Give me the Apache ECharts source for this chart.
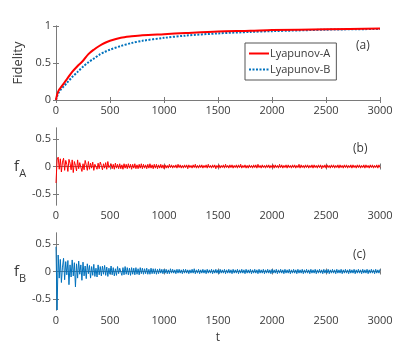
<!DOCTYPE html>
<html>
<head>
<meta charset="utf-8">
<script src="https://cdn.jsdelivr.net/npm/echarts@6/dist/echarts.min.js"></script>
<style>
  html, body { margin: 0; padding: 0; background: #fff; }
  #chart { width: 420px; height: 350px; }
</style>
</head>
<body>
<div id="chart"></div>
<script>
// (a) fidelity curves
const tFid = [0, 10, 25, 50, 75, 100, 150, 200, 250, 300, 350, 400, 450, 500, 600, 700, 800, 1000, 1200, 1500, 1800, 2000, 2500, 3000];
const fidA = [0, 0.07, 0.13, 0.18, 0.23, 0.28, 0.38, 0.46, 0.53, 0.62, 0.68, 0.73, 0.77, 0.80, 0.84, 0.86, 0.875, 0.89, 0.905, 0.925, 0.935, 0.945, 0.955, 0.965];
const fidB = [0, 0.05, 0.10, 0.15, 0.19, 0.23, 0.31, 0.38, 0.45, 0.51, 0.56, 0.61, 0.65, 0.68, 0.73, 0.77, 0.80, 0.84, 0.87, 0.90, 0.92, 0.93, 0.95, 0.96];

// (b),(c) control fields, sampled every 10 time units from t = 0
const step = 10;
const fA = [
  -0.30, 0.12, 0.17, -0.05, 0.14, -0.10, 0.08, 0.15, -0.07, 0.11,
  0.04, -0.09, 0.13, 0.06, -0.06, 0.12, -0.11, 0.09, 0.02, -0.08,
  0.12, -0.04, 0.07, 0.10, -0.09, 0.05, -0.06, 0.11, 0.03, -0.07,
  0.09, -0.05, 0.06, -0.03, 0.08, -0.07, 0.04, 0.07, -0.05, 0.06,
  -0.04, 0.08, 0.02, -0.06, 0.05, -0.03, 0.07, -0.05, 0.09, -0.02,
  -0.04, 0.05, -0.04, 0.04, -0.05, 0.06, -0.03, 0.04, -0.04, 0.05,
  -0.04, 0.03, -0.05, 0.05, -0.03, 0.04, -0.04, 0.05, -0.03, 0.04,
  -0.05, 0.04, -0.03, 0.05, -0.04, 0.03, -0.04, 0.04, -0.03, 0.05,
  -0.04, 0.04, -0.03, 0.03, -0.04, 0.04, -0.03, 0.05, -0.03, 0.03,
  -0.04, 0.04, -0.03, 0.04, -0.04, 0.03, -0.03, 0.04, -0.03, 0.03,
  -0.04, 0.03, -0.03, 0.02, -0.03, 0.04, -0.02, 0.03, -0.03, 0.02,
  -0.02, 0.03, -0.03, 0.04, -0.02, 0.03, -0.03, 0.02, -0.03, 0.03,
  -0.02, 0.03, -0.04, 0.03, -0.02, 0.02, -0.03, 0.03, -0.02, 0.04,
  -0.03, 0.02, -0.03, 0.03, -0.02, 0.03, -0.03, 0.02, -0.02, 0.03,
  -0.03, 0.04, -0.02, 0.02, -0.03, 0.03, -0.02, 0.03, -0.04, 0.02,
  -0.02, 0.03, -0.03, 0.02, -0.02, 0.03, -0.03, 0.04, -0.02, 0.02,
  -0.03, 0.03, -0.02, 0.03, -0.03, 0.02, -0.02, 0.03, -0.03, 0.03,
  -0.02, 0.04, -0.03, 0.02, -0.02, 0.03, -0.03, 0.02, -0.03, 0.03,
  -0.02, 0.02, -0.03, 0.03, -0.02, 0.03, -0.03, 0.04, -0.02, 0.02,
  -0.03, 0.03, -0.02, 0.02, -0.03, 0.03, -0.02, 0.03, -0.03, 0.02,
  -0.02, 0.03, -0.03, 0.03, -0.02, 0.02, -0.03, 0.04, -0.02, 0.03,
  -0.03, 0.02, -0.02, 0.03, -0.03, 0.03, -0.02, 0.02, -0.03, 0.03,
  -0.02, 0.03, -0.03, 0.02, -0.02, 0.04, -0.03, 0.03, -0.02, 0.02,
  -0.03, 0.03, -0.02, 0.03, -0.03, 0.02, -0.02, 0.03, -0.03, 0.03,
  -0.02, 0.02, -0.03, 0.03, -0.02, 0.03, -0.04, 0.02, -0.02, 0.03,
  -0.03, 0.03, -0.02, 0.02, -0.03, 0.03, -0.02, 0.03, -0.03, 0.02,
  -0.02, 0.03, -0.03, 0.03, -0.02, 0.02, -0.03, 0.03, -0.02, 0.03,
  -0.03, 0.02, -0.02, 0.03, -0.03, 0.03, -0.02, 0.02, -0.03, 0.03,
  -0.02, 0.03, -0.03, 0.02, -0.02, 0.03, -0.03, 0.03, -0.02, 0.02,
  -0.03, 0.03, -0.02, 0.03, -0.03, 0.02, -0.02, 0.03, -0.03, 0.03,
  -0.02
];
const fB = [
  0.45, -0.70, 0.30, -0.12, 0.22, -0.20, 0.08, 0.24, -0.15, 0.18,
  -0.06, 0.20, -0.24, 0.12, -0.10, 0.21, -0.08, 0.16, -0.28, 0.14,
  -0.12, 0.19, -0.05, 0.12, -0.16, 0.17, -0.08, 0.10, -0.13, 0.14,
  -0.04, 0.11, -0.12, 0.09, -0.07, 0.13, -0.09, 0.06, -0.10, 0.12,
  -0.06, 0.09, -0.08, 0.10, -0.05, 0.11, -0.07, 0.08, -0.09, 0.06,
  -0.05, 0.10, -0.06, 0.07, -0.08, 0.05, -0.07, 0.09, -0.04, 0.06,
  0.08, -0.07, 0.07, -0.06, 0.09, -0.05, 0.07, -0.06, 0.06, -0.07,
  0.07, -0.05, 0.06, -0.06, 0.07, -0.05, 0.05, -0.06, 0.07, -0.04,
  0.06, -0.05, 0.05, -0.04, 0.06, -0.05, 0.04, -0.05, 0.06, -0.04,
  0.05, -0.04, 0.05, -0.05, 0.04, -0.04, 0.05, -0.03, 0.04, -0.04,
  0.04, -0.03, 0.04, -0.04, 0.03, -0.04, 0.05, -0.03, 0.04, -0.03,
  0.03, -0.04, 0.04, -0.03, 0.04, -0.03, 0.03, -0.04, 0.04, -0.03,
  0.04, -0.03, 0.03, -0.04, 0.03, -0.03, 0.04, -0.03, 0.05, -0.04,
  0.03, -0.03, 0.04, -0.04, 0.03, -0.03, 0.04, -0.03, 0.03, -0.04,
  0.04, -0.03, 0.03, -0.03, 0.04, -0.04, 0.03, -0.03, 0.04, -0.03,
  0.03, -0.04, 0.04, -0.03, 0.03, -0.03, 0.04, -0.04, 0.03, -0.03,
  0.04, -0.03, 0.03, -0.04, 0.04, -0.03, 0.03, -0.03, 0.04, -0.04,
  0.03, -0.03, 0.04, -0.03, 0.03, -0.04, 0.04, -0.03, 0.03, -0.03,
  0.04, -0.04, 0.03, -0.03, 0.04, -0.03, 0.03, -0.04, 0.04, -0.03,
  0.03, -0.03, 0.04, -0.04, 0.03, -0.03, 0.04, -0.03, 0.03, -0.04,
  0.04, -0.03, 0.03, -0.03, 0.04, -0.04, 0.03, -0.03, 0.04, -0.03,
  0.03, -0.04, 0.04, -0.03, 0.03, -0.03, 0.04, -0.04, 0.03, -0.03,
  0.04, -0.03, 0.03, -0.04, 0.04, -0.03, 0.03, -0.03, 0.04, -0.04,
  0.03, -0.03, 0.04, -0.03, 0.03, -0.04, 0.04, -0.03, 0.03, -0.03,
  0.04, -0.04, 0.03, -0.03, 0.04, -0.03, 0.03, -0.04, 0.04, -0.03,
  0.03, -0.03, 0.04, -0.04, 0.03, -0.03, 0.04, -0.03, 0.03, -0.04,
  0.04, -0.03, 0.03, -0.03, 0.04, -0.04, 0.03, -0.03, 0.04, -0.03,
  0.03, -0.04, 0.04, -0.03, 0.03, -0.03, 0.04, -0.04, 0.03, -0.03,
  0.04, -0.03, 0.03, -0.04, 0.04, -0.03, 0.03, -0.03, 0.04, -0.04,
  0.03, -0.03, 0.04, -0.03, 0.03, -0.04, 0.04, -0.03, 0.03, -0.03,
  0.04
];
const fTicks = [-0.5, 0, 0.5];

const FONT = "Open Sans";
const AXIS_C = "#7a7a7a";
const TXT_C = "#3a3a3a";
const RED = "#ff0000";
const BLUE = "#0072bd";

const grids = [
  { left: 56, top: 26, width: 324, height: 74 },
  { left: 56, top: 128, width: 324, height: 77 },
  { left: 56, top: 233, width: 324, height: 77 }
];

function xAx(g, pos, extra) {
  return Object.assign({
    type: "value", gridIndex: g, position: pos, min: 0, max: 3000, interval: 500,
    axisLine: { show: true, lineStyle: { color: AXIS_C, width: 1 } },
    axisTick: { show: true, inside: true, length: 3, lineStyle: { color: AXIS_C } },
    axisLabel: { show: pos === "bottom", margin: 5, color: TXT_C, fontSize: 11, fontFamily: FONT,
      formatter: (v) => String(v) },
    splitLine: { show: false }
  }, extra || {});
}

function yAx(g, pos, fid, extra) {
  const base = {
    type: "value", gridIndex: g, position: pos,
    axisLine: { show: true, lineStyle: { color: AXIS_C, width: 1 } },
    axisTick: { show: true, inside: true, length: 3, lineStyle: { color: AXIS_C } },
    axisLabel: { show: pos === "left", margin: 5, color: TXT_C, fontSize: 11, fontFamily: FONT },
    splitLine: { show: false }
  };
  if (fid) {
    base.min = 0; base.max = 1; base.interval = 0.5;
  } else {
    base.min = -0.7; base.max = 0.7;
    base.axisTick.customValues = fTicks;
    base.axisLabel.customValues = fTicks;
  }
  return Object.assign(base, extra || {});
}

const fName = (sub) => ({
  name: "{f|f}{s|" + sub + "}",
  nameLocation: "middle", nameRotate: 0, nameGap: 24,
  nameTextStyle: {
    rich: {
      f: { fontSize: 15, fontFamily: FONT, color: TXT_C },
      s: { fontSize: 11, fontFamily: FONT, color: TXT_C, padding: [14, 0, 0, 0] }
    }
  }
});

const xAxes = [
  xAx(0, "bottom"), xAx(0, "top"),
  xAx(1, "bottom"), xAx(1, "top"),
  xAx(2, "bottom", { name: "t", nameLocation: "middle", nameGap: 22,
    nameTextStyle: { fontSize: 12, fontFamily: FONT, color: TXT_C } }),
  xAx(2, "top")
];
const yAxes = [
  yAx(0, "left", true, { name: "Fidelity", nameLocation: "middle", nameGap: 29,
    nameTextStyle: { fontSize: 13, fontFamily: FONT, color: TXT_C } }),
  yAx(0, "right", true),
  yAx(1, "left", false, fName("A")), yAx(1, "right", false),
  yAx(2, "left", false, fName("B")), yAx(2, "right", false)
];

const toPairs = (vals) => vals.map((v, i) => [i * step, v]);
const fidPairs = (vals) => tFid.map((t, i) => [t, vals[i]]);

const chart = echarts.init(document.getElementById("chart"), null, { renderer: "canvas" });
chart.setOption({
  animation: false,
  backgroundColor: "#fff",
  title: [
    { text: "(a)", left: 351, top: 35, textStyle: { fontSize: 12, fontWeight: "normal", fontFamily: FONT, color: TXT_C } },
    { text: "(b)", left: 348, top: 138, textStyle: { fontSize: 12, fontWeight: "normal", fontFamily: FONT, color: TXT_C } },
    { text: "(c)", left: 348, top: 244, textStyle: { fontSize: 12, fontWeight: "normal", fontFamily: FONT, color: TXT_C } }
  ],
  legend: {
    orient: "vertical", left: 245, top: 43,
    padding: [5, 6, 5, 3], itemGap: 5, itemWidth: 20, itemHeight: 12,
    borderColor: "#555", borderWidth: 1, backgroundColor: "#fff",
    itemStyle: { opacity: 0 },
    textStyle: { fontSize: 11, fontFamily: FONT, color: TXT_C, padding: [0, 0, 0, -4] },
    data: ["Lyapunov-A", "Lyapunov-B"]
  },
  grid: grids,
  xAxis: xAxes,
  yAxis: yAxes,
  series: [
    { name: "Lyapunov-A", type: "line", xAxisIndex: 0, yAxisIndex: 0, data: fidPairs(fidA),
      smooth: 0.3, symbol: "none", lineStyle: { color: RED, width: 2 }, itemStyle: { color: RED }, z: 3 },
    { name: "Lyapunov-B", type: "line", xAxisIndex: 0, yAxisIndex: 0, data: fidPairs(fidB),
      smooth: 0.3, symbol: "none", lineStyle: { color: BLUE, width: 2, type: [2, 1.5] }, itemStyle: { color: BLUE }, z: 2 },
    { name: "fA", type: "line", xAxisIndex: 2, yAxisIndex: 2, data: toPairs(fA),
      symbol: "none", sampling: null, lineStyle: { color: RED, width: 1 } },
    { name: "fB", type: "line", xAxisIndex: 4, yAxisIndex: 4, data: toPairs(fB),
      symbol: "none", sampling: null, lineStyle: { color: BLUE, width: 1 } }
  ]
});
</script>
</body>
</html>
